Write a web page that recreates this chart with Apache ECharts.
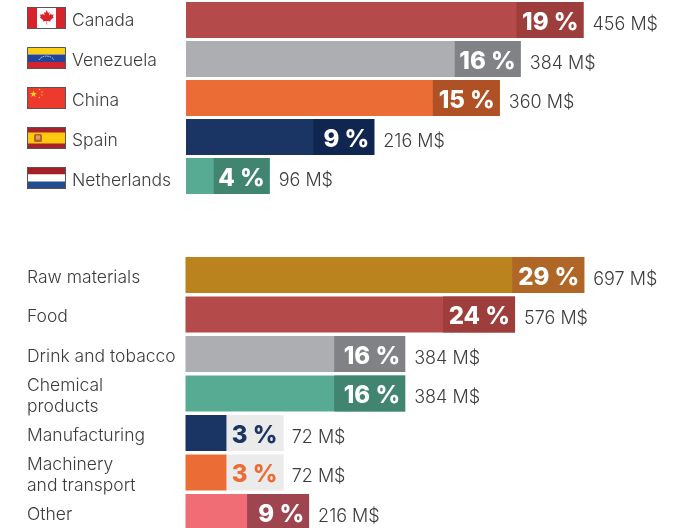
<!DOCTYPE html>
<html><head><meta charset="utf-8">
<style>html,body{margin:0;padding:0;background:#fff}#c{width:685px;height:528px}</style>
<script src="https://cdn.jsdelivr.net/npm/echarts@6/dist/echarts.min.js"></script>
</head><body><div id="c"></div>
<script>
const countries = ['Canada','Venezuela','China','Spain','Netherlands'];
const countryValues = [456,384,360,216,96];
const countryPct = [19,16,15,9,4];
const sectors = ['Raw materials','Food','Drink and tobacco','Chemical\nproducts','Manufacturing','Machinery\nand transport','Other'];
const sectorValues = [697,576,384,384,72,72,216];
const sectorPct = [29,24,16,16,3,3,9];

const countryColors = ['#B54A4A','#ADAEB1','#EC6C35','#1A3563','#58AB93'];
const countryDark = ['#9D3E3C','#808285','#AF5125','#0F2650','#418570'];
const countryBoxWidth = [67,66,67,61,56];
const sectorColors = ['#BA831E','#B54A4A','#ADAEB1','#58AB93','#1A3563','#EC6C35','#F06D75'];
const sectorDark = ['#B06627','#9D3E3C','#808285','#418570','#EBEBEB','#EBEBEB','#9E454F'];
const sectorBoxWidth = [72,72,71,71,57,57,62];

const textColor = '#3C3C3E';
const font = 'Inter, "Liberation Sans", Arial, sans-serif';
const frame = '<rect x=".5" y=".5" width="38" height="21" fill="none" stroke="#5a5555"/>';
function svg(b){return 'data:image/svg+xml;charset=utf-8,'+encodeURIComponent('<svg xmlns="http://www.w3.org/2000/svg" width="156" height="88" viewBox="0 0 39 22">'+b+frame+'</svg>');}
const flags = {
 Canada: svg('<rect width="39" height="22" fill="#fff"/><rect width="10" height="22" fill="#D8232A"/><rect x="29" width="10" height="22" fill="#D8232A"/><path d="M19.5 3l1.6 2.9 1.5-.8-.6 3.4 2-2 .5 1.3 2.2-.4-.8 2.4 1 .5-3.6 2.9.4 1.3-3.7-.5.1 3.4h-.6l.1-3.4-3.7.5.4-1.3-3.6-2.9 1-.5-.8-2.4 2.2.4.5-1.3 2 2-.6-3.4 1.5.8z" fill="#D8232A"/>'),
 Venezuela: svg('<rect width="39" height="7.5" fill="#FBCF14"/><rect y="7.5" width="39" height="7.5" fill="#21459C"/><rect y="15" width="39" height="7" fill="#D2232F"/><path d="M12 13a8 6 0 0 1 15 0" fill="none" stroke="#dfe4f2" stroke-width="1" stroke-dasharray="1.4 1"/>'),
 China: svg('<rect width="39" height="22" fill="#EE3A2C"/><path d="M6.500 3.500l.9 2.500h2.600L7.900 7.600l.8 2.500-2.200-1.500-2.200 1.500.8-2.500L3 6h2.600z" fill="#FFD21F"/><g fill="#FFD21F"><circle cx="12.500" cy="2.500" r=".7"/><circle cx="15" cy="5" r=".7"/><circle cx="15" cy="8" r=".7"/><circle cx="12.500" cy="10.500" r=".7"/></g>'),
 Spain: svg('<rect width="39" height="22" fill="#A9222B"/><rect y="5.500" width="39" height="11" fill="#FFC90E"/><rect x="7" y="7" width="8" height="8" rx="1.500" fill="#B5602F"/><rect x="9" y="8.500" width="4" height="4" fill="#D9A55B"/>'),
 Netherlands: svg('<rect width="39" height="7.500" fill="#A61E26"/><rect y="7.500" width="39" height="7" fill="#fff"/><rect y="14.500" width="39" height="7.500" fill="#214C8F"/>')
};
const flagRich = {};
countries.forEach((c,i)=>{flagRich['f'+i]={width:39,height:22,backgroundColor:{image:flags[c]}};});
flagRich.t={fontFamily:font,fontSize:17.5,fontWeight:300,color:textColor,padding:[6,0,0,6]};

function pctSeries(vals,pct,colors,dark,boxW,gi){
  return {type:'bar',xAxisIndex:gi,yAxisIndex:gi,barWidth:36,barGap:'-100%',silent:true,
    data:vals.map((v,i)=>{
      const outside=v<90;
      return {value:v,itemStyle:{color:colors[i]},label:{
        show:true,position:outside?'right':'insideRight',distance:0,offset:[0,-18],
        formatter:pct[i]+' %',fontFamily:font,fontWeight:800,fontSize:24,
        color:outside?colors[i]:'#fff',backgroundColor:dark[i],
        width:boxW[i]-5,align:outside?'left':'right',verticalAlign:'top',
        padding:outside?[10.5,0,0,5]:[10.5,5,0,0],height:25.5,lineHeight:20}};
    })};
}
function valSeries(vals,gi){
  return {type:'bar',xAxisIndex:gi,yAxisIndex:gi,barWidth:36,barGap:'-100%',silent:true,
    itemStyle:{color:'transparent'},
    data:vals.map(v=>({value:v,label:{show:true,position:'right',distance:v<90?65:9,offset:[0,4.5],
      formatter:v+' M$',fontFamily:font,fontSize:18,fontWeight:300,color:textColor}}))};
}
const hiddenX=(gi,max)=>({type:'value',gridIndex:gi,min:0,max:max,show:false});
const chart=echarts.init(document.getElementById('c'),null,{renderer:'canvas'});
chart.setOption({
  animation:false,backgroundColor:'#fff',
  grid:[
    {left:186,top:0.5,width:401,height:195,outerBoundsMode:'none'},
    {left:185.5,top:255.25,width:400.5,height:276.5,outerBoundsMode:'none'},
    {left:186,top:-2,width:1,height:200,outerBoundsMode:'none'},
    {left:186,top:257.75,width:1,height:276.5,outerBoundsMode:'none'}
  ],
  xAxis:[hiddenX(0,460),hiddenX(1,700),hiddenX(2,1),hiddenX(3,1)],
  yAxis:[
    {type:'category',gridIndex:0,inverse:true,data:countries,axisLine:{show:false},axisTick:{show:false},axisLabel:{show:false}},
    {type:'category',gridIndex:1,inverse:true,data:sectors,axisLine:{show:false},axisTick:{show:false},axisLabel:{show:false}},
    {type:'category',gridIndex:2,inverse:true,data:countries,axisLine:{show:false},axisTick:{show:false},
      axisLabel:{align:'left',margin:159,interval:0,
        formatter:(v,i)=>`{f${i}|}{t|${v}}`,rich:flagRich}},
    {type:'category',gridIndex:3,inverse:true,data:sectors,axisLine:{show:false},axisTick:{show:false},
      axisLabel:{align:'left',margin:159,interval:0,fontFamily:font,fontSize:17.5,fontWeight:300,color:textColor,lineHeight:21}}
  ],
  series:[
    pctSeries(countryValues,countryPct,countryColors,countryDark,countryBoxWidth,0),
    valSeries(countryValues,0),
    pctSeries(sectorValues,sectorPct,sectorColors,sectorDark,sectorBoxWidth,1),
    valSeries(sectorValues,1)
  ]
});
</script></body></html>
